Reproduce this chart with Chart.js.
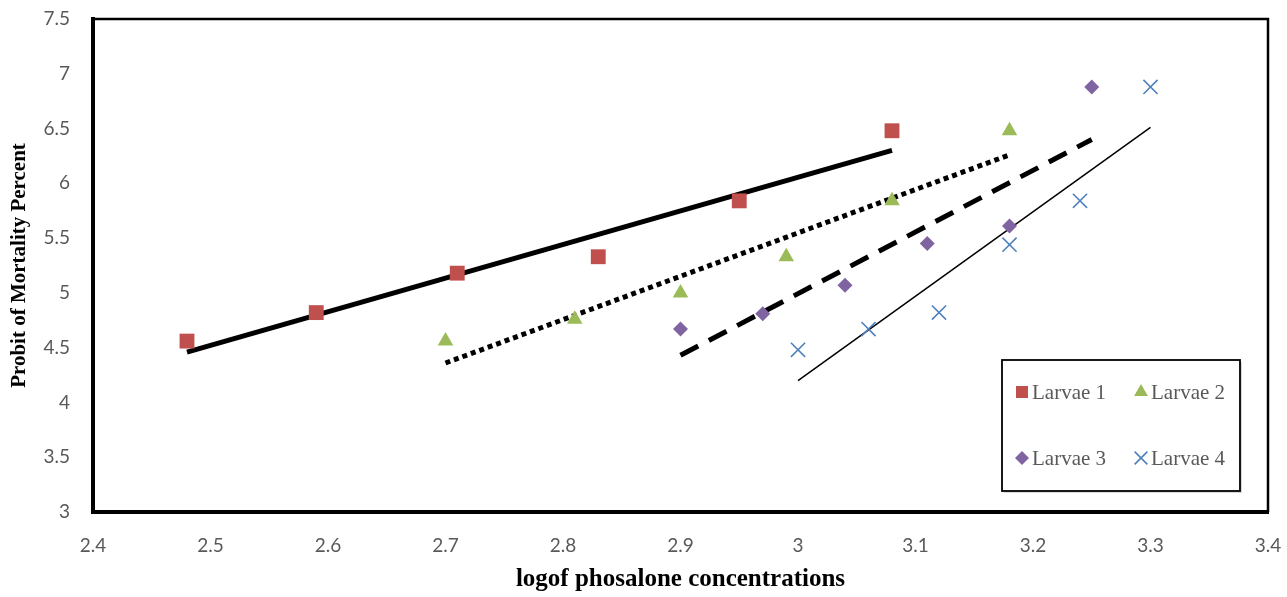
<!DOCTYPE html>
<html>
<head>
<meta charset="utf-8">
<script src="https://cdn.jsdelivr.net/npm/chart.js@4/dist/chart.umd.min.js"></script>
<style>
  html, body { margin: 0; padding: 0; background: #fff; }
  #wrap { width: 1287px; height: 597px; position: relative; }
</style>
</head>
<body>
<div id="wrap"><canvas id="probitChart" width="1287" height="597"></canvas></div>
<script>
// values
const larvae1X = [2.48, 2.59, 2.71, 2.83, 2.95, 3.08];
const larvae1Y = [4.56, 4.82, 5.18, 5.33, 5.84, 6.48];
const larvae2X = [2.70, 2.81, 2.90, 2.99, 3.08, 3.18];
const larvae2Y = [4.56, 4.76, 5.00, 5.33, 5.84, 6.48];
const larvae3X = [2.90, 2.97, 3.04, 3.11, 3.18, 3.25];
const larvae3Y = [4.67, 4.81, 5.07, 5.45, 5.61, 6.88];
const larvae4X = [3.00, 3.06, 3.12, 3.18, 3.24, 3.30];
const larvae4Y = [4.48, 4.67, 4.82, 5.44, 5.84, 6.88];

// trend line end points
const trend1X = [2.48, 3.08];
const trend1Y = [4.46, 6.30];
const trend2X = [2.70, 3.18];
const trend2Y = [4.36, 6.26];
const trend3X = [2.90, 3.25];
const trend3Y = [4.43, 6.40];
const trend4X = [3.00, 3.30];
const trend4Y = [4.20, 6.51];

const seriesLabels = ["Larvae 1", "Larvae 2", "Larvae 3", "Larvae 4"];
const xTicks = [2.4, 2.5, 2.6, 2.7, 2.8, 2.9, 3, 3.1, 3.2, 3.3, 3.4];
const yTicks = [3, 3.5, 4, 4.5, 5, 5.5, 6, 6.5, 7, 7.5];

const toPoints = (xs, ys) => xs.map((x, i) => ({ x, y: ys[i] }));

const markerStyles = [
  { color: "#C0504D", style: "rect", radius: 10.5, border: 0 },
  { color: "#9BBB59", style: "triangle", radius: 9, border: 0 },
  { color: "#8064A2", style: "rectRot", radius: 7.5, border: 0 },
  { color: "#4F81BD", style: "crossRot", radius: 10, border: 1.6 }
];

function markerDataset(label, xs, ys, m) {
  return {
    label,
    data: toPoints(xs, ys),
    showLine: false,
    pointStyle: m.style,
    pointRadius: m.radius,
    pointHoverRadius: m.radius,
    backgroundColor: m.color,
    borderColor: m.color,
    pointBorderWidth: m.border
  };
}

function trendDataset(xs, ys, width, dash) {
  return {
    label: "trend",
    data: toPoints(xs, ys),
    showLine: true,
    pointRadius: 0,
    borderColor: "#000",
    borderWidth: width,
    borderDash: dash,
    borderCapStyle: "butt",
    fill: false
  };
}

// frame around the plot area (top / right lighter than the axes)
const framePlugin = {
  id: "frame",
  afterDatasetsDraw(chart) {
    const { ctx, chartArea: a } = chart;
    ctx.save();
    ctx.strokeStyle = "#000";
    ctx.lineWidth = 2.5;
    ctx.beginPath();
    ctx.moveTo(a.left, a.top);
    ctx.lineTo(a.right, a.top);
    ctx.lineTo(a.right, a.bottom);
    ctx.stroke();
    ctx.restore();
  }
};

// boxed legend in the lower right corner of the plot
const legendBoxPlugin = {
  id: "legendBox",
  afterDraw(chart) {
    const { ctx, chartArea: a } = chart;
    const boxLeft = a.right - 266;
    const boxTop = a.bottom - 152;
    const boxW = 238, boxH = 131;
    ctx.save();
    ctx.fillStyle = "rgba(0,0,0,0.15)";
    ctx.fillRect(boxLeft + 2, boxTop + 2, boxW, boxH);
    ctx.fillStyle = "#fff";
    ctx.fillRect(boxLeft, boxTop, boxW, boxH);
    ctx.strokeStyle = "#000";
    ctx.lineWidth = 1.8;
    ctx.strokeRect(boxLeft, boxTop, boxW, boxH);

    const legendMarkers = [
      { style: "rect", radius: 8.5 },
      { style: "triangle", radius: 8 },
      { style: "rectRot", radius: 7 },
      { style: "crossRot", radius: 9 }
    ];
    ctx.font = "21px 'Liberation Serif', serif";
    ctx.textBaseline = "middle";
    ctx.textAlign = "left";
    seriesLabels.forEach((label, i) => {
      const col = i % 2, row = Math.floor(i / 2);
      const mx = boxLeft + 20 + col * 119;
      const my = boxTop + 32 + row * 66;
      const m = markerStyles[i];
      ctx.fillStyle = m.color;
      ctx.strokeStyle = m.color;
      ctx.lineWidth = m.border || 1;
      Chart.helpers.drawPoint(ctx, {
        pointStyle: legendMarkers[i].style,
        radius: legendMarkers[i].radius,
        borderWidth: m.border,
        rotation: 0
      }, mx, my);
      ctx.fillStyle = "#595959";
      ctx.fillText(label, mx + 10, my + 1);
    });
    ctx.restore();
  }
};

const ctx = document.getElementById("probitChart");

new Chart(ctx, {
  type: "scatter",
  data: {
    datasets: [
      markerDataset(seriesLabels[0], larvae1X, larvae1Y, markerStyles[0]),
      markerDataset(seriesLabels[1], larvae2X, larvae2Y, markerStyles[1]),
      markerDataset(seriesLabels[2], larvae3X, larvae3Y, markerStyles[2]),
      markerDataset(seriesLabels[3], larvae4X, larvae4Y, markerStyles[3]),
      trendDataset(trend1X, trend1Y, 5, []),
      trendDataset(trend2X, trend2Y, 5, [5, 4]),
      trendDataset(trend3X, trend3Y, 5, [20, 12]),
      trendDataset(trend4X, trend4Y, 1.5, [])
    ]
  },
  options: {
    responsive: false,
    animation: false,
    layout: { padding: { left: 0, top: 19, right: 19, bottom: 0 } },
    plugins: {
      legend: { display: false },
      tooltip: { enabled: false }
    },
    scales: {
      x: {
        type: "linear",
        min: 2.4,
        max: 3.4,
        afterFit(scale) {
          scale.height = 85;
          scale.paddingLeft = 0;
          scale.paddingRight = 0;
        },
        afterBuildTicks(scale) { scale.ticks = xTicks.map(v => ({ value: v })); },
        grid: { display: false, drawTicks: false },
        border: { display: true, color: "#000", width: 4 },
        ticks: {
          padding: 22,
          color: "#595959",
          font: { family: "Lato, 'Open Sans', sans-serif", size: 19 },
          callback: v => String(v)
        },
        title: {
          display: true,
          text: "logof phosalone concentrations",
          color: "#000",
          font: { family: "'Liberation Serif', serif", size: 25, weight: "bold" },
          padding: { top: 0, bottom: 2 }
        }
      },
      y: {
        type: "linear",
        min: 3,
        max: 7.5,
        afterFit(scale) {
          scale.width = 93;
          scale.paddingTop = 0;
          scale.paddingBottom = 0;
        },
        afterBuildTicks(scale) { scale.ticks = yTicks.map(v => ({ value: v })); },
        grid: { display: false, drawTicks: false },
        border: { display: true, color: "#000", width: 4 },
        ticks: {
          padding: 23,
          color: "#595959",
          font: { family: "Lato, 'Open Sans', sans-serif", size: 19 },
          callback: v => String(v)
        },
        title: {
          display: true,
          text: "Probit of Mortality Percent",
          color: "#000",
          font: { family: "'Liberation Serif', serif", size: 21, weight: "bold" },
          padding: { top: 7, bottom: 0 }
        }
      }
    }
  },
  plugins: [framePlugin, legendBoxPlugin]
});
</script>
</body>
</html>
